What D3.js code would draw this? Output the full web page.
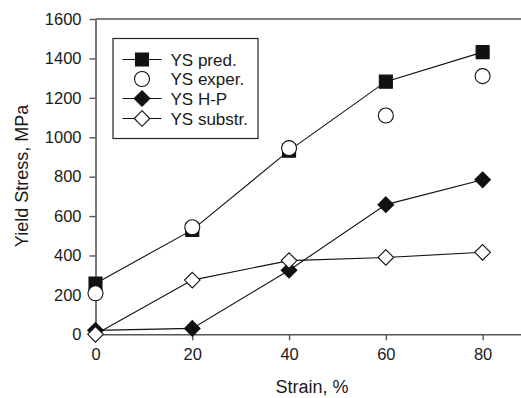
<!DOCTYPE html>
<html><head><meta charset="utf-8">
<script src="https://cdn.jsdelivr.net/npm/d3@7"></script>
<style>body{margin:0;background:#fff}svg{display:block;font-family:"Liberation Sans",Arial,sans-serif}</style>
</head><body><svg id="c" width="521" height="398"></svg>
<script>
const strain = [0, 20, 40, 60, 80];
const ysPred = [258, 530, 932, 1282, 1432];
const ysExper = [208, 543, 945, 1110, 1310];
const ysHP = [20, 30, 325, 658, 784];
const ysSubstr = [0, 275, 374, 390, 416];
const xTicks = [0, 20, 40, 60, 80];
const yTicks = [0, 200, 400, 600, 800, 1000, 1200, 1400, 1600];
const legendLabels = ["YS pred.", "YS exper.", "YS H-P", "YS substr."];

const svg = d3.select("#c");
const x = d3.scaleLinear().domain([0, 90]).range([95.5, 531]);
const y = d3.scaleLinear().domain([0, 1600]).range([334.3, 19]);
const axisColor = "#555";

// frame top line
svg.append("line").attr("x1", 95.5).attr("x2", 521).attr("y1", y(1600)).attr("y2", y(1600))
  .attr("stroke", axisColor).attr("stroke-width", 1.6);

const gx = svg.append("g").attr("transform", `translate(0,${y(0)})`)
  .call(d3.axisBottom(x).tickValues(xTicks).tickFormat(d3.format("d")).tickSize(6).tickPadding(8).tickSizeOuter(0));
const gy = svg.append("g").attr("transform", `translate(${x(0)},0)`)
  .call(d3.axisLeft(y).tickValues(yTicks).tickFormat(d3.format("d")).tickSize(6).tickPadding(8).tickSizeOuter(0));
[gx, gy].forEach(g => {
  g.select(".domain").attr("stroke", axisColor).attr("stroke-width", 1.6);
  g.selectAll(".tick line").attr("stroke", axisColor).attr("stroke-width", 1.4);
  g.selectAll(".tick text").attr("fill", "#1a1a1a").style("font-size", "16.5px");
});

svg.append("text").attr("x", 312).attr("y", 393).attr("text-anchor", "middle")
  .style("font-size", "18px").attr("fill", "#1a1a1a").text("Strain, %");
svg.append("text").attr("transform", "translate(28,176) rotate(-90)").attr("text-anchor", "middle")
  .style("font-size", "18px").attr("fill", "#1a1a1a").text("Yield Stress, MPa");

function diamondPath(r) { return `M0,${-r}L${r},0L0,${r}L${-r},0Z`; }
function markerPath(shape) {
  if (shape === "diamond") return diamondPath(7.8);
  if (shape === "square") return d3.symbol().type(d3.symbolSquare).size(169)();
  return d3.symbol().type(d3.symbolCircle).size(Math.PI * 7.5 * 7.5)();
}

const line = d3.line().x((d, i) => x(strain[i])).y(d => y(d));
const series = [
  { v: ysPred, shape: "square", fill: "#111", line: true },
  { v: ysExper, shape: "circle", fill: "#fff", line: false },
  { v: ysHP, shape: "diamond", fill: "#111", line: true },
  { v: ysSubstr, shape: "diamond", fill: "#fff", line: true }
];
series.forEach(s => {
  if (s.line) svg.append("path").attr("d", line(s.v)).attr("fill", "none").attr("stroke", "#111").attr("stroke-width", 1.1);
});
series.forEach(s => {
  svg.append("g").selectAll("path").data(s.v).join("path")
    .attr("transform", (d, i) => `translate(${x(strain[i])},${y(d)})`)
    .attr("d", markerPath(s.shape))
    .attr("fill", s.fill).attr("stroke", "#111").attr("stroke-width", 1.1);
});

// legend
const lg = svg.append("g");
lg.append("rect").attr("x", 113).attr("y", 38.5).attr("width", 145).attr("height", 100)
  .attr("fill", "#fff").attr("stroke", "#222").attr("stroke-width", 1.2);
const ly = [59.5, 79, 98.5, 118.5];
series.forEach((s, i) => {
  if (s.line) lg.append("line").attr("x1", 122.5).attr("x2", 161.5).attr("y1", ly[i]).attr("y2", ly[i])
    .attr("stroke", "#111").attr("stroke-width", 1.1);
  lg.append("path").attr("transform", `translate(142,${ly[i]})`).attr("d", markerPath(s.shape))
    .attr("fill", s.fill).attr("stroke", "#111").attr("stroke-width", 1.1);
  lg.append("text").attr("x", 170.5).attr("y", ly[i] + 6).style("font-size", "17px")
    .attr("fill", "#1a1a1a").text(legendLabels[i]);
});
</script></body></html>
